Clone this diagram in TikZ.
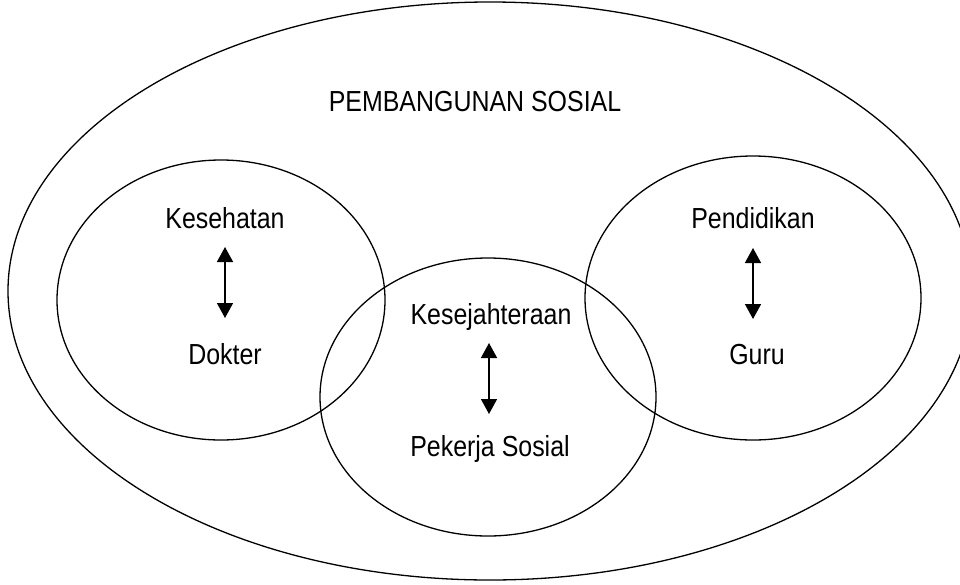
\documentclass[tikz,border=0pt]{standalone}
\usepackage{fontspec}
\setmainfont{Liberation Sans}[FakeStretch=0.86]
\usetikzlibrary{arrows.meta}
\begin{document}
\begin{tikzpicture}[x=1pt,y=-1pt,
  ring/.style={draw,line width=1.3pt},
  lbl/.style={font=\fontsize{29}{32}\selectfont,inner sep=0pt,anchor=base},
  dblarrow/.style={line width=1.5pt,{Triangle[width=16pt,length=15pt]}-{Triangle[width=16pt,length=15pt]}}]
\useasboundingbox (0,0) rectangle (960,584);
\draw[ring] (490,291) ellipse [x radius=482,y radius=289];
\draw[ring] (221,300) ellipse [x radius=164,y radius=140];
\draw[ring] (488,397) ellipse [x radius=168,y radius=139];
\draw[ring] (753,298) ellipse [x radius=168,y radius=142];
\node[lbl] (title) at (475,111) {PEMBANGUNAN SOSIAL};
\node[lbl] (kes) at (225,228) {Kesehatan};
\node[lbl] (dok) at (225,364) {Dokter};
\node[lbl] (kesej) at (491,324) {Kesejahteraan};
\node[lbl] (pek) at (490,456) {Pekerja Sosial};
\node[lbl] (pend) at (753,228) {Pendidikan};
\node[lbl] (guru) at (757,364) {Guru};
\coordinate (a1t) at (225,247); \coordinate (a1b) at (225,318);
\coordinate (a2t) at (489,343); \coordinate (a2b) at (489,414);
\coordinate (a3t) at (753,248); \coordinate (a3b) at (753,319);
\draw[dblarrow] (a1t) -- (a1b);
\draw[dblarrow] (a2t) -- (a2b);
\draw[dblarrow] (a3t) -- (a3b);
\end{tikzpicture}
\end{document}
